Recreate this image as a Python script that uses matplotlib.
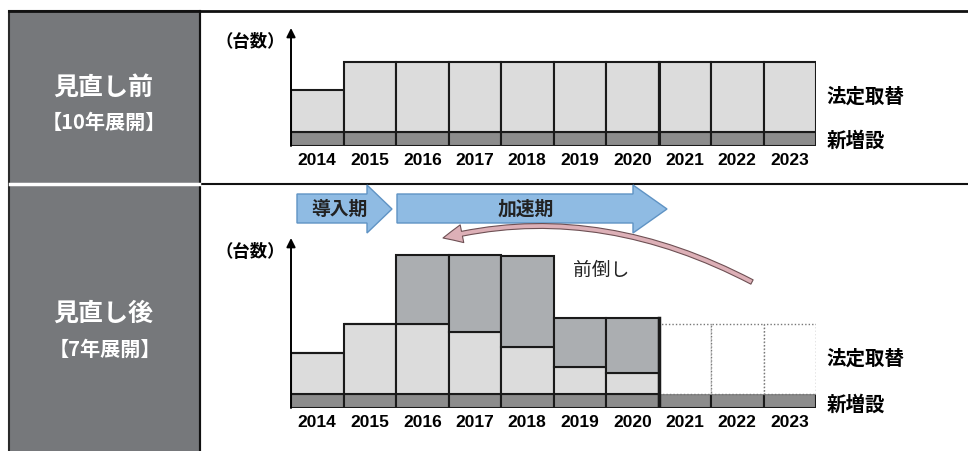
import numpy as np
import matplotlib
matplotlib.use('Agg')
import matplotlib.pyplot as plt
from matplotlib.patches import Rectangle, Polygon, FancyArrowPatch
from matplotlib.path import Path

plt.rcParams['font.family'] = ['Noto Sans CJK JP', 'DejaVu Sans']

# data (units: relative number of units per year)
years = [2014, 2015, 2016, 2017, 2018, 2019, 2020, 2021, 2022, 2023]
new_units = [2, 2, 2, 2, 2, 2, 2, 2, 2, 2]
before_replace = [6, 10, 10, 10, 10, 10, 10, 10, 10, 10]
after_replace = [5.9, 10, 10, 8.9, 6.7, 3.9, 3.0, 0, 0, 0]
after_advance = [0, 0, 9.9, 10.9, 13.0, 7.0, 7.9, 0, 0, 0]
after_planned = [0, 0, 0, 0, 0, 0, 0, 10, 10, 10]

W, H = 968, 451
PX_PER_UNIT = 7.0
c_repl = '#dcdcdc'
c_new = '#8c8c8c'
c_adv = '#abaeb1'
c_edge = '#1a1a1a'

fig = plt.figure(figsize=(W / 100, H / 100), dpi=100)

# background / frame in pixel coords
bg = fig.add_axes([0, 0, 1, 1])
bg.set_xlim(0, W)
bg.set_ylim(H, 0)
bg.axis('off')
bg.add_patch(Rectangle((9, 11), 191, 445, fc='#76787b', ec='#2a2a2a', lw=1.5))
bg.plot([9, W], [11, 11], color='#111111', lw=2)
bg.plot([200, 200], [11, H], color='#111111', lw=1.5)
bg.plot([200, W], [184, 184], color='#111111', lw=1.5)
bg.plot([10, 199], [184, 184], color='white', lw=2.5)

bg.text(103, 88, '見直し前', color='white', fontsize=18, fontweight='bold', ha='center', va='center')
bg.text(104, 122, '【10年展開】', color='white', fontsize=14.5, fontweight='bold', ha='center', va='center')
bg.text(103, 314, '見直し後', color='white', fontsize=18, fontweight='bold', ha='center', va='center')
bg.text(105, 349, '【7年展開】', color='white', fontsize=14.5, fontweight='bold', ha='center', va='center')


def chart_axes(x0, x1, y_top, y_base):
    ax = fig.add_axes([x0 / W, 1 - y_base / H, (x1 - x0) / W, (y_base - y_top) / H])
    ax.set_xlim(0, len(years))
    ax.set_ylim(0, (y_base - y_top) / PX_PER_UNIT)
    ax.patch.set_alpha(0)
    for s in ax.spines.values():
        s.set_visible(False)
    ax.set_yticks([])
    ax.set_xticks(np.arange(len(years)) + 0.5, [str(y) for y in years])
    ax.tick_params(axis='x', length=0, pad=5)
    for lab in ax.get_xticklabels():
        lab.set_fontfamily(['Liberation Sans', 'DejaVu Sans'])
        lab.set_fontweight('bold')
        lab.set_fontsize(12.5)
    ax.annotate('', xy=(0, ax.get_ylim()[1]), xytext=(0, 0),
                arrowprops=dict(arrowstyle='-|>', color='black', lw=1.4, mutation_scale=13,
                                shrinkA=0, shrinkB=0),
                annotation_clip=False)
    return ax


x = np.arange(len(years))

# before revision
ax1 = chart_axes(291, 816, 28, 146)
ax1.bar(x, new_units, width=1, align='edge', color=c_new, edgecolor=c_edge, lw=1.5)
ax1.bar(x, before_replace, bottom=new_units, width=1, align='edge', color=c_repl, edgecolor=c_edge, lw=1.5)
ax1.plot([7, 7], [0, new_units[6] + before_replace[6]], color=c_edge, lw=2.2)
ax1.text(-0.12, ax1.get_ylim()[1] - 2.0, '（台数）', fontsize=12.5, fontweight='bold', ha='right', va='center')
ax1.text(10.2, new_units[-1] + before_replace[-1] / 2, '法定取替', fontsize=14, fontweight='bold', va='center')
ax1.text(10.2, new_units[-1] / 2 - 0.3, '新増設', fontsize=14, fontweight='bold', va='center')

# after revision
ax2 = chart_axes(291, 816, 238, 408)
base2 = np.array(new_units)
ax2.bar(x, new_units, width=1, align='edge', color=c_new, edgecolor=c_edge, lw=1.5)
ax2.bar(x[:7], after_replace[:7], bottom=base2[:7], width=1, align='edge', color=c_repl, edgecolor=c_edge, lw=1.5)
ax2.bar(x[:7], after_advance[:7], bottom=(base2 + np.array(after_replace))[:7], width=1, align='edge',
        color=c_adv, edgecolor=c_edge, lw=1.5)
ax2.bar(x[7:], after_planned[7:], bottom=base2[7:], width=1, align='edge', color='white',
        edgecolor='#777777', lw=1, ls=(0, (1, 1.5)))
top2020 = new_units[6] + after_replace[6] + after_advance[6]
ax2.plot([7, 7], [0, top2020], color=c_edge, lw=2.5)
ax2.text(-0.12, ax2.get_ylim()[1] - 2.0, '（台数）', fontsize=12.5, fontweight='bold', ha='right', va='center')
ax2.text(10.2, new_units[-1] + after_planned[-1] / 2, '法定取替', fontsize=14, fontweight='bold', va='center')
ax2.text(10.2, new_units[-1] / 2 - 0.5, '新増設', fontsize=14, fontweight='bold', va='center')


# phase arrows (pixel coords)
def phase_arrow(x0, x1, xtip, label, cx):
    pts = [(x0, 194), (x1, 194), (x1, 185), (xtip, 209), (x1, 233), (x1, 223), (x0, 223)]
    bg.add_patch(Polygon(pts, closed=True, fc='#8fbbe3', ec='#5f93c4', lw=1, zorder=3))
    bg.text(cx, 209, label, fontsize=13.5, fontweight='bold', color='#222222', ha='center', va='center', zorder=4)


phase_arrow(297, 367, 392, '導入期', 339)
phase_arrow(397, 633, 667, '加速期', 526)

# curved arrow 前倒し
verts = [(752, 282), (595, 200), (443, 238)]
codes = [Path.MOVETO, Path.CURVE3, Path.CURVE3]
arr = FancyArrowPatch(path=Path(verts, codes),
                      arrowstyle='simple,head_length=14,head_width=13,tail_width=3.5',
                      mutation_scale=1, fc='#ddb0b7', ec='#6e5054', lw=0.8, zorder=3)
bg.add_patch(arr)
bg.text(601, 270, '前倒し', fontsize=13.5, color='#222222', ha='center', va='center')

fig.savefig('out.png', dpi=100)
